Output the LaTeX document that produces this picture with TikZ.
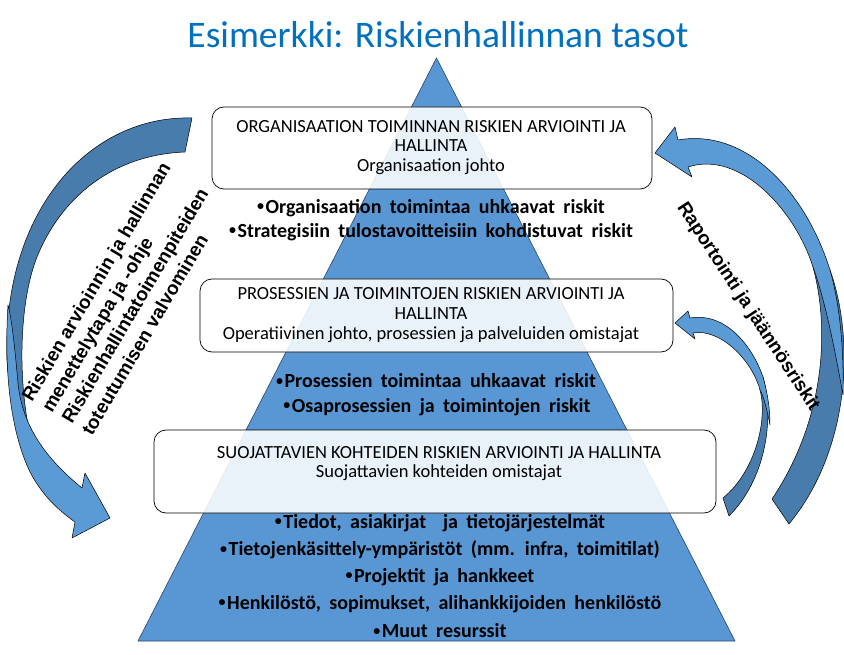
\documentclass[tikz,border=0pt]{standalone}
\usepackage{fontspec}
\setmainfont{Carlito}
\newfontfamily\arialfont{Liberation Sans}
\definecolor{tri}{RGB}{88,150,212}
\definecolor{darkb}{RGB}{72,124,172}
\definecolor{lightb}{RGB}{91,155,213}
\definecolor{titleblue}{RGB}{0,112,192}
\newcommand\mywidespace{\spaceskip=0.42em\relax}
\newcommand\smallbul{\raisebox{2.6pt}{\fontsize{14}{14}\selectfont •}\hspace{1.5pt}}
\tikzset{
  levelbox/.style={draw=black, line width=0.7pt, rounded corners=12pt, fill=white, fill opacity=0.88, inner sep=0pt},
  boxtext/.style={font=\fontsize{18.5}{20}\selectfont, text=black, inner sep=0pt, anchor=center},
  bullettext/.style={font={\fontsize{20}{22}\selectfont\bfseries\mywidespace}, text=black, inner sep=0pt, anchor=center},
  sidetext/.style={font=\arialfont\bfseries\fontsize{19}{22}\selectfont, text=black, inner sep=0pt},
  backband/.style={fill=darkb, draw=black, line width=0.5pt, line join=round},
  frontband/.style={fill=lightb, draw=black, line width=0.5pt, line join=round}
}
\begin{document}
\begin{tikzpicture}[x=1pt,y=-1pt]
\useasboundingbox (0,0) rectangle (844,655);
\fill[white] (0,0) rectangle (844,655);

% title
\node[font=\fontsize{37.5}{40}\selectfont, text=titleblue, inner sep=0pt] (title) at (438,35) {Esimerkki: Riskienhallinnan tasot};

% pyramid
\draw[fill=tri, draw={rgb,255:red,40;green,70;blue,110}, line width=0.6pt] (436.5,58) -- (735,641) -- (138,641) -- cycle;

% boxes
\node[levelbox, minimum width=440pt, minimum height=82pt] (b1) at (432,148) {};
\node[levelbox, minimum width=473pt, minimum height=73pt] (b2) at (436.5,315.5) {};
\node[levelbox, minimum width=562pt, minimum height=83pt] (b3) at (435,471.5) {};

% box texts
\node[boxtext] (b1a) at (431,127) {ORGANISAATION TOIMINNAN RISKIEN ARVIOINTI JA};
\node[boxtext] (b1b) at (431,146) {HALLINTA};
\node[boxtext] (b1c) at (431,167) {Organisaation johto};

\node[boxtext] (b2a) at (431,294) {PROSESSIEN JA TOIMINTOJEN RISKIEN ARVIOINTI JA};
\node[boxtext] (b2b) at (431,314) {HALLINTA};
\node[boxtext] (b2c) at (431,335) {Operatiivinen johto, prosessien ja palveluiden omistajat};

\node[boxtext] (b3a) at (439,453) {SUOJATTAVIEN KOHTEIDEN RISKIEN ARVIOINTI JA HALLINTA};
\node[boxtext] (b3b) at (439,473) {Suojattavien kohteiden omistajat};

% bullets
\node[bullettext] (l1a) at (431,208) {\smallbul Organisaation toimintaa uhkaavat riskit};
\node[bullettext] (l1b) at (431,232) {\smallbul Strategisiin tulostavoitteisiin kohdistuvat riskit};
\node[bullettext] (l2a) at (436,381) {\smallbul Prosessien toimintaa uhkaavat riskit};
\node[bullettext] (l2b) at (437,407) {\smallbul Osaprosessien ja toimintojen riskit};
\node[bullettext] (l3a) at (440,523) {\smallbul Tiedot, asiakirjat \ ja tietojärjestelmät};
\node[bullettext] (l3b) at (440,550) {\smallbul Tietojenkäsittely-ympäristöt (mm. infra, toimitilat)};
\node[bullettext] (l3c) at (440,577) {\smallbul Projektit ja hankkeet};
\node[bullettext] (l3d) at (440,604) {\smallbul Henkilöstö, sopimukset, alihankkijoiden henkilöstö};
\node[bullettext] (l3e) at (440,631) {\smallbul Muut resurssit};

% left curved arrow: back band
\draw[backband] (192,118) .. controls (90,115) and (2,210) .. (7,360)
  .. controls (9,390) and (15,410) .. (28,425)
  .. controls (18,370) and (20,300) .. (37,257)
  .. controls (60,200) and (110,155) .. (185,152) -- cycle;
% left curved arrow: front band with head
\draw[frontband] (8,305) .. controls (4,370) and (10,430) .. (30,472)
  .. controls (42,495) and (58,510) .. (75,522)
  -- (72,538) -- (110,518) -- (85,473) -- (82,488)
  .. controls (45,458) and (22,425) .. (18,383)
  .. controls (15,350) and (12,320) .. (8,305) -- cycle;

% big right arrow: back band
\draw[backband] (772,499) -- (789,524) .. controls (850,450) and (855,340) .. (830,270)
  -- (813,267) .. controls (830,330) and (825,420) .. (772,499) -- cycle;
% big right arrow: front band with head
\draw[frontband] (655,153) -- (675,127) -- (678,140)
  .. controls (745,128) and (805,190) .. (830,270)
  .. controls (840,305) and (844,350) .. (843,395)
  .. controls (835,350) and (825,300) .. (813,267)
  .. controls (795,210) and (740,150) .. (688,167)
  -- (692,177) -- cycle;

% small right arrow: back band
\draw[backband] (723,498) -- (729,516) .. controls (765,480) and (775,420) .. (763,377)
  -- (760,390) .. controls (768,420) and (755,472) .. (723,498) -- cycle;
% small right arrow: front band with head
\draw[frontband] (675,323) -- (688,311) -- (690,318)
  .. controls (725,312) and (752,345) .. (763,377)
  .. controls (768,395) and (770,410) .. (770,425)
  .. controls (766,405) and (763,395) .. (760,390)
  .. controls (752,360) and (720,328) .. (693,333)
  -- (695,339) -- cycle;

% side labels
\node[sidetext, rotate=59.4, anchor=base west] (s1) at (32,403) {Riskien arvioinnin ja hallinnan};
\node[sidetext, rotate=59.4, anchor=base west] (s2) at (52,414) {menettelytapa ja -ohje};
\node[sidetext, rotate=59.4, anchor=base west] (s3) at (72,425) {Riskienhallintatoimenpiteiden};
\node[sidetext, rotate=59.4, anchor=base west] (s4) at (92,437) {toteutumisen valvominen};

\node[sidetext, rotate=-56.8, anchor=center] (s5) at (748,307) {Raportointi ja jäännösriskit};
\end{tikzpicture}
\end{document}
